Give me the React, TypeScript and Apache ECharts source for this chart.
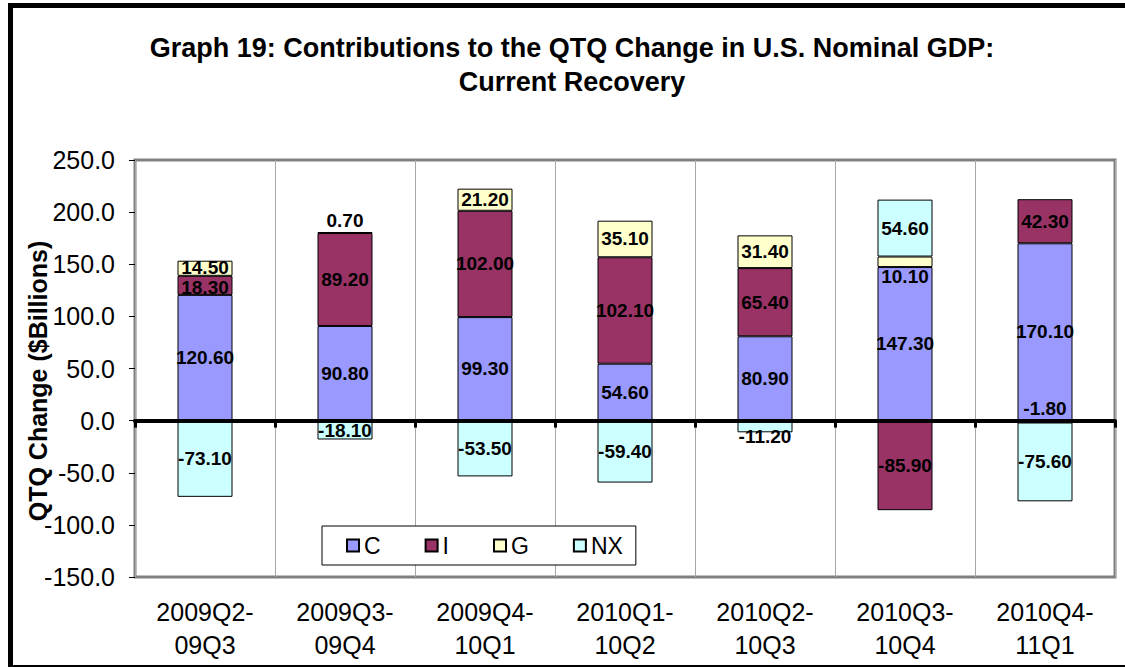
import React, { useEffect, useRef } from "react";
import * as echarts from "echarts";

const categories = [
  "2009Q2-\n09Q3",
  "2009Q3-\n09Q4",
  "2009Q4-\n10Q1",
  "2010Q1-\n10Q2",
  "2010Q2-\n10Q3",
  "2010Q3-\n10Q4",
  "2010Q4-\n11Q1",
];
const seriesNames = ["C", "I", "G", "NX"];
const cValues = [120.6, 90.8, 99.3, 54.6, 80.9, 147.3, 170.1];
const iValues = [18.3, 89.2, 102.0, 102.1, 65.4, -85.9, 42.3];
const gValues = [14.5, 0.7, 21.2, 35.1, 31.4, 10.1, -1.8];
const nxValues = [-73.1, -18.1, -53.5, -59.4, -11.2, 54.6, -75.6];
const yTicks = { min: -150, max: 250, interval: 50 };
const titleLines = [
  "Graph 19: Contributions to the QTQ Change in U.S. Nominal GDP:",
  "Current Recovery",
];
const yAxisName = "QTQ Change ($Billions)";

const FONT = "'Liberation Sans', Arial, Helvetica, sans-serif";
const COLORS = ["#9999FF", "#993366", "#FFFFCC", "#CCFFFF"];

export default function App() {
  const ref = useRef<HTMLDivElement>(null);

  useEffect(() => {
    const chart = echarts.init(ref.current!, null, { renderer: "svg" });

    const labelBase = {
      show: true,
      position: "inside",
      color: "#000",
      fontWeight: "bold",
      fontSize: 19,
      lineHeight: 16,
      fontFamily: FONT,
      formatter: (p: any) => Number(p.value).toFixed(2),
    };

    const mk = (
      name: string,
      values: number[],
      color: string,
      overrides: Record<number, any>
    ) => ({
      name,
      type: "bar",
      stack: "total",
      barWidth: 55,
      data: values.map((v, i) =>
        overrides[i] ? { value: v, label: overrides[i] } : v
      ),
      itemStyle: { color, borderColor: "#000", borderWidth: 1 },
      label: labelBase,
      emphasis: { disabled: true },
    });

    const option: any = {
      animation: false,
      backgroundColor: "#fff",
      textStyle: { fontFamily: FONT },
      grid: {
        left: 135,
        top: 160,
        right: 10,
        bottom: 90,
        show: true,
        borderColor: "#808080",
        borderWidth: 3,
        backgroundColor: "#fff",
      },
      legend: {
        data: seriesNames,
        left: 322,
        top: 526,
        orient: "horizontal",
        padding: [8, 13, 8, 24],
        itemWidth: 12,
        itemHeight: 12,
        itemGap: 44,
        icon: "rect",
        borderColor: "#000",
        borderWidth: 1,
        backgroundColor: "#fff",
        textStyle: { fontSize: 23, color: "#000", fontFamily: FONT },
      },
      xAxis: [
        {
          type: "category",
          data: categories,
          position: "bottom",
          axisLine: { show: false, onZero: false },
          axisTick: { show: false },
          axisLabel: {
            fontSize: 25,
            lineHeight: 33,
            color: "#000",
            margin: 18,
            fontFamily: FONT,
          },
          splitLine: { show: true, lineStyle: { color: "#a6a6a6", width: 1 } },
        },
        {
          type: "category",
          data: categories,
          position: "top",
          z: 10,
          axisLine: { show: true, onZero: true, lineStyle: { color: "#000", width: 4 } },
          axisTick: { show: true, inside: true, length: 7, lineStyle: { color: "#000", width: 3 } },
          axisLabel: { show: false },
          splitLine: { show: false },
        },
      ],
      yAxis: {
        type: "value",
        min: yTicks.min,
        max: yTicks.max,
        interval: yTicks.interval,
        axisLine: { show: false },
        axisTick: { show: true, length: 6, lineStyle: { color: "#000", width: 1 } },
        splitLine: { show: false },
        axisLabel: {
          fontSize: 25,
          color: "#000",
          margin: 20,
          fontFamily: FONT,
          formatter: (v: number) => v.toFixed(1),
        },
      },
      series: [
        mk(seriesNames[0], cValues, COLORS[0], {}),
        mk(seriesNames[1], iValues, COLORS[1], {
          0: { offset: [0, 2] },
        }),
        mk(seriesNames[2], gValues, COLORS[2], {
          0: { offset: [0, -1] },
          1: { position: "top", distance: 4 },
          5: { offset: [0, 15] },
          6: { position: "top", distance: 4 },
        }),
        mk(seriesNames[3], nxValues, COLORS[3], {
          4: { offset: [0, 10] },
        }),
      ],
      graphic: [
        {
          type: "rect",
          silent: true,
          shape: { x: 10.5, y: 5.5, width: 1130, height: 662 },
          style: { fill: "none", stroke: "#000", lineWidth: 5 },
          z: 100,
        },
        {
          type: "text",
          x: 572,
          y: 48,
          style: {
            text: titleLines[0],
            align: "center",
            verticalAlign: "middle",
            font: `bold 27px ${FONT}`,
            fill: "#000",
          },
        },
        {
          type: "text",
          x: 572,
          y: 82,
          style: {
            text: titleLines[1],
            align: "center",
            verticalAlign: "middle",
            font: `bold 27px ${FONT}`,
            fill: "#000",
          },
        },
        {
          type: "text",
          x: 38,
          y: 381,
          rotation: Math.PI / 2,
          style: {
            text: yAxisName,
            align: "center",
            verticalAlign: "middle",
            font: `bold 25px ${FONT}`,
            fill: "#000",
          },
        },
      ],
    };

    chart.setOption(option);
    return () => chart.dispose();
  }, []);

  return (
    <div
      ref={ref}
      style={{ position: "fixed", left: 0, top: 0, width: 1125, height: 667 }}
    />
  );
}
